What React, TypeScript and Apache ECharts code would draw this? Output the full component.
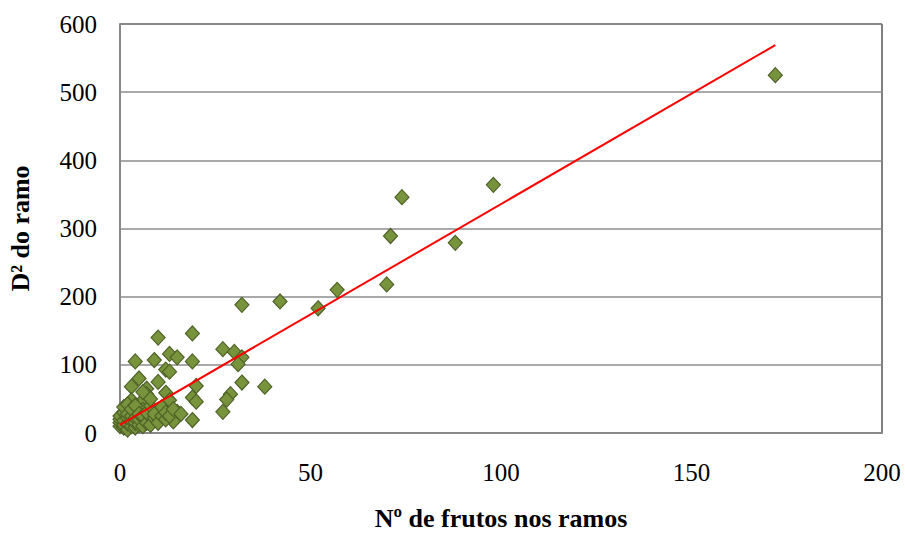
import React, { useEffect, useRef } from "react";
import * as echarts from "echarts";

const fruitsX: number[] = [
  172, 98, 74, 71, 88, 70, 57, 52, 42, 32,
  19, 10, 27, 30, 32, 31, 38, 32, 29, 28, 27,
  19, 20, 19, 20, 19,
  4, 9, 13, 15, 12, 13, 5, 10, 3, 7, 12, 7, 6, 13, 3, 15, 14, 10, 8, 6,
  0, 0, 0, 0, 1, 1, 1, 1, 1, 2, 2, 2, 2, 2, 3, 3, 3, 3, 4, 4, 4, 4, 5, 5, 5,
  6, 6, 7, 7, 8, 8, 9, 9, 10, 11, 11, 12, 12, 13, 14, 6, 8, 16,
];
const diamY: number[] = [
  525, 364, 346, 289, 279, 218, 210, 183, 193, 188,
  146, 140, 123, 119, 111, 101, 68, 74, 57, 49, 31,
  105, 69, 52, 46, 19,
  105, 107, 116, 111, 93, 90, 80, 75, 68, 65, 59, 57, 48, 48, 48, 31, 17, 34, 19, 34,
  10, 15, 20, 25, 8, 12, 18, 30, 38, 5, 14, 22, 28, 42, 10, 18, 25, 35, 8, 15, 22, 40, 12, 20, 28,
  10, 25, 15, 30, 12, 40, 22, 28, 15, 25, 38, 20, 30, 25, 35, 60, 50, 28,
];
const trendX: number[] = [0, 172];
const trendY: number[] = [12, 569];
const xTicks: number[] = [0, 50, 100, 150, 200];
const yTicks: number[] = [0, 100, 200, 300, 400, 500, 600];

export default function App() {
  const ref = useRef<HTMLDivElement>(null);
  useEffect(() => {
    if (!ref.current) return;
    const chart = echarts.init(ref.current, undefined, { renderer: "svg" });
    const font = "'Liberation Serif', 'Times New Roman', serif";
    chart.setOption({
      animation: false,
      backgroundColor: "#ffffff",
      textStyle: { fontFamily: font },
      grid: {
        left: 120,
        right: 23,
        top: 24,
        bottom: 100,
        containLabel: false,
        outerBoundsMode: "none",
        show: true,
        borderColor: "#000000",
        borderWidth: 1,
      },
      xAxis: {
        type: "value",
        min: xTicks[0],
        max: xTicks[xTicks.length - 1],
        interval: 50,
        name: "Nº de frutos nos ramos",
        nameLocation: "middle",
        nameGap: 71,
        nameTextStyle: { fontFamily: font, fontSize: 26, fontWeight: "bold", color: "#000", lineHeight: 28 },
        axisLine: { show: true, lineStyle: { color: "#898989", width: 2 } },
        axisTick: { show: false },
        splitLine: { show: false },
        axisLabel: { fontFamily: font, fontSize: 25, color: "#000", margin: 27 },
      },
      yAxis: {
        type: "value",
        min: yTicks[0],
        max: yTicks[yTicks.length - 1],
        interval: 100,
        name: "D² do ramo",
        nameLocation: "middle",
        nameGap: 87,
        nameRotate: 90,
        nameTextStyle: { fontFamily: font, fontSize: 26, fontWeight: "bold", color: "#000" },
        axisLine: { show: true, lineStyle: { color: "#898989", width: 2 } },
        axisTick: { show: false },
        splitLine: { show: true, lineStyle: { color: "#8c8c8c", width: 1.5 } },
        axisLabel: { fontFamily: font, fontSize: 25, color: "#000", margin: 23 },
      },
      series: [
        {
          type: "scatter",
          symbol: "diamond",
          symbolSize: [14, 15],
          itemStyle: { color: "#77933C", borderColor: "#4F6228", borderWidth: 1.2, opacity: 1 },
          data: fruitsX.map((x, i) => [x, diamY[i]]),
          z: 2,
        },
        {
          type: "line",
          data: trendX.map((x, i) => [x, trendY[i]]),
          symbol: "none",
          lineStyle: { color: "#ff0000", width: 2 },
          z: 3,
        },
      ],
    });
    return () => chart.dispose();
  }, []);
  return <div ref={ref} style={{ width: 905, height: 533, position: "absolute", left: 0, top: 0 }} />;
}
